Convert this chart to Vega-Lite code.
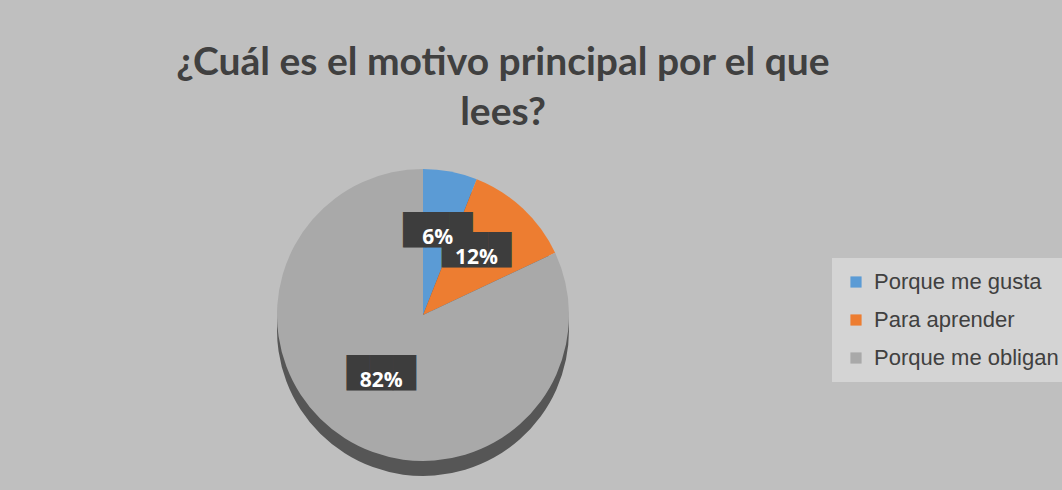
{
  "$schema": "https://vega.github.io/schema/vega-lite/v6.json",
  "width": 846,
  "height": 310,
  "autosize": {"type": "none"},
  "padding": {"top": 160, "left": 0, "right": 216, "bottom": 20},
  "background": "#bfbfbf",
  "config": {"view": {"stroke": null}},
  "title": {
    "text": ["¿Cuál es el motivo principal por el que", "lees?"],
    "font": "Lato",
    "fontSize": 39,
    "fontWeight": "bold",
    "color": "#404040",
    "lineHeight": 50,
    "anchor": "middle",
    "frame": "group",
    "dx": 80,
    "offset": 27
  },
  "data": {
    "values": [
      {"motivo": "Porque me gusta", "valor": 0.06, "orden": 1},
      {"motivo": "Para aprender", "valor": 0.12, "orden": 2},
      {"motivo": "Porque me obligan", "valor": 0.82, "orden": 3}
    ]
  },
  "encoding": {
    "theta": {"field": "valor", "type": "quantitative", "stack": true},
    "order": {"field": "orden", "type": "quantitative"}
  },
  "layer": [
    {"mark": {"type": "arc", "radius": 146, "yOffset": 15, "fill": "#565656"}},
    {
      "mark": {"type": "arc", "radius": 146},
      "encoding": {
        "color": {
          "field": "motivo",
          "type": "nominal",
          "scale": {
            "domain": ["Porque me gusta", "Para aprender", "Porque me obligan"],
            "range": ["#5b9bd5", "#ed7d31", "#a9a9a9"]
          },
          "legend": {
            "orient": "none",
            "legendX": 832,
            "legendY": 98,
            "title": null,
            "fillColor": "#d4d4d4",
            "padding": 13,
            "symbolType": "square",
            "symbolSize": 125,
            "symbolStrokeWidth": 0,
            "labelFontSize": 22,
            "labelFont": "Liberation Sans",
            "labelColor": "#404040",
            "labelLimit": 300,
            "labelOffset": 7,
            "rowPadding": 16
          }
        }
      }
    },
    {"mark": {"type": "text", "radius": 78, "text": "███", "font": "DejaVu Sans", "fontSize": 30, "color": "#3d3d3d", "dy": -7}},
    {
      "mark": {"type": "text", "radius": 78, "font": "Open Sans", "fontSize": 21, "fontWeight": "bold", "fill": "white"},
      "encoding": {"text": {"field": "valor", "type": "quantitative", "format": ".0%"}}
    }
  ]
}
